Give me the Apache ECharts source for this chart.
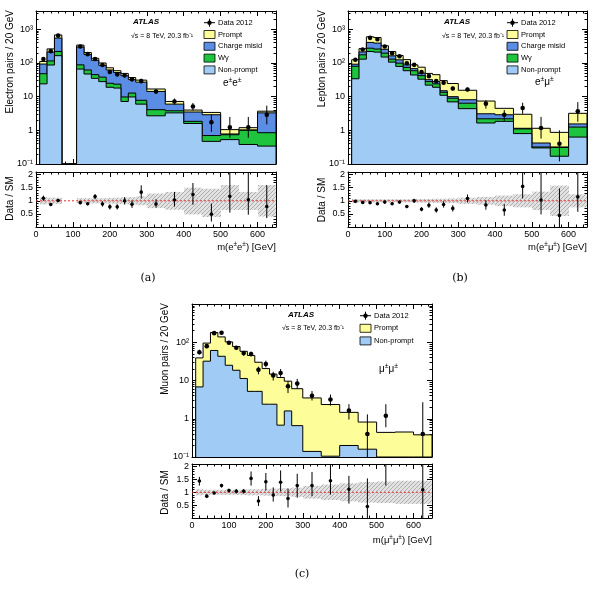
<!DOCTYPE html>
<html>
<head>
<meta charset="utf-8">
<script src="https://cdn.jsdelivr.net/npm/echarts@6/dist/echarts.min.js"></script>
<style>
  html, body { margin: 0; padding: 0; background: #fff; }
  #chart { width: 595px; height: 590px; }
</style>
</head>
<body>
<div id="chart"></div>
<script>
// ---- bin edges (GeV) ----
const edgesEE = [10, 30, 50, 70, 110, 130, 150, 170, 190, 210, 230, 250, 270, 300, 350, 400, 450, 500, 550, 600, 650];
const edgesLL = [10, 30, 50, 70, 90, 110, 130, 150, 170, 190, 210, 230, 250, 270, 300, 350, 400, 450, 500, 550, 600, 650];

// ---- (a) e±e± : per-bin content of each background (70-110 is vetoed) ----
const eeNonPrompt = [24, 87, 165, 0, 66, 47, 35, 28, 19, 18, 7.2, 9.8, 6, 2.7, 3.3, 1.6, 0.47, 0.53, 0.38, 0.34];
const eeWgamma    = [24, 28, 55, 0, 22, 15, 10, 10, 6, 5.5, 2.6, 3, 1.8, 1.4, 0.5, 0.25, 0.23, 0.21, 0.62, 0.51];
const eeChargeMis = [45, 95, 330, 0, 210, 116, 75, 47, 37, 28.5, 32.2, 19.2, 19.2, 10.2, 2.2, 1.65, 2.2, 0.04, 0.03, 2.45];
const eePrompt    = [18, 52, 130, 0, 42, 27, 18, 15, 10, 7, 7, 5, 4, 2.6, 1.2, 0.5, 0.5, 0.27, 0.17, 0.4];
const eeDataMass  = [20, 40, 60, 120, 140, 160, 180, 200, 220, 240, 260, 285, 325, 375, 425, 475, 525, 575, 625];
const eeData      = [131, 225, 650, 309, 183, 131, 87, 54, 46, 43, 33, 29, 14.3, 7.2, 5.1, 1.73, 1.23, 1.23, 2.9];
const eeDataLo    = [120, 210, 625, 290, 170, 120, 78, 47, 40, 37, 28, 25, 12, 5.8, 3.9, 0.9, 0.6, 0.6, 1.5];
const eeDataHi    = [142, 240, 675, 330, 197, 142, 96, 61, 52, 49, 38, 34, 16.5, 8.8, 6.5, 2.9, 2.5, 2.5, 5.4];
const eeRatio     = [1.1, 0.86, 1.01, 0.93, 0.89, 1.16, 0.88, 0.77, 0.77, 1.0, 0.87, 1.33, 0.88, 1.03, 1.24, 0.49, 1.17, 1.04, 0.78];
const eeRatioLo   = [1.0, 0.8, 0.96, 0.87, 0.83, 1.06, 0.78, 0.67, 0.67, 0.86, 0.73, 1.09, 0.74, 0.78, 0.85, 0.21, 0.55, 0.47, 0.34];
const eeRatioHi   = [1.2, 0.92, 1.06, 0.99, 0.95, 1.26, 0.98, 0.87, 0.87, 1.14, 1.01, 1.59, 1.06, 1.34, 1.68, 0.9, 2.5, 2.5, 1.6];
const eeBandUp    = [0.14, 0.12, 0.12, null, 0.1, 0.1, 0.1, 0.1, 0.11, 0.12, 0.13, 0.14, 0.17, 0.28, 0.34, 0.5, 0.46, 0.6, 0.34, 0.6];
const eeBandDn    = [0.14, 0.12, 0.12, null, 0.1, 0.1, 0.1, 0.1, 0.11, 0.12, 0.13, 0.14, 0.17, 0.28, 0.34, 0.52, 0.62, 0.35, 0.35, 0.6];

// ---- (b) e±μ± ----
const emNonPrompt = [34, 130, 219, 210, 150, 106, 79, 59, 44, 33, 22, 19, 11, 7, 4.4, 1.65, 1.85, 0.8, 0.3, 0.17, 0.63];
const emWgamma    = [46, 45, 56, 50, 46, 24, 20, 15, 15, 9, 6, 5, 2.5, 2, 2, 0.55, 0.35, 0.3, 0.02, 0.14, 0.62];
const emChargeMis = [12, 38, 133, 130, 59, 33, 25, 14, 9, 8, 4, 4, 1.5, 1, 1.7, 0.9, 0.7, 0.05, 0.1, 0.01, 0.3];
const emPrompt    = [33, 54, 192, 180, 70, 56, 43, 38, 20, 25, 17, 17, 15, 14.6, 7.4, 4.3, 1.6, 1.85, 0.73, 0.55, 1.65];
const emDataMass  = [20, 40, 60, 80, 100, 120, 140, 160, 180, 200, 220, 240, 260, 285, 325, 375, 425, 475, 525, 575, 625];
const emData      = [125, 251, 558, 507, 309, 195, 159, 98, 88, 53.5, 40.6, 29, 26, 17.5, 16.4, 6.2, 2.9, 4.6, 1.17, 0.4, 3.7];
const emDataLo    = [117, 240, 540, 490, 296, 185, 150, 91, 81, 48, 36, 25, 22.5, 15, 14.4, 4.4, 1.9, 3.1, 0.57, 0.12, 1.8];
const emDataHi    = [133, 262, 575, 525, 322, 205, 168, 105, 95, 59, 45, 33, 29.5, 20, 18.5, 7.8, 4.0, 6.6, 2.5, 1.0, 6.9];
const emRatio     = [0.98, 0.94, 0.93, 0.89, 0.95, 0.89, 0.95, 0.78, 1.0, 0.68, 0.83, 0.65, 0.86, 0.71, 1.09, 0.84, 0.65, 1.55, 1.03, 0.44, 1.15];
const emRatioLo   = [0.94, 0.9, 0.89, 0.85, 0.9, 0.84, 0.9, 0.72, 0.92, 0.6, 0.73, 0.55, 0.74, 0.59, 0.94, 0.66, 0.43, 1.09, 0.48, 0, 0.58];
const emRatioHi   = [1.02, 0.98, 0.97, 0.93, 1.0, 0.94, 1.0, 0.84, 1.08, 0.76, 0.93, 0.75, 0.98, 0.83, 1.24, 1.02, 0.87, 2.15, 2.5, 1.47, 2.5];
const emBandUp    = [0.07, 0.06, 0.06, 0.06, 0.06, 0.06, 0.06, 0.06, 0.07, 0.07, 0.07, 0.08, 0.08, 0.09, 0.12, 0.15, 0.2, 0.25, 0.35, 0.58, 0.25];
const emBandDn    = emBandUp;

// ---- (c) μ±μ± ----
const mmNonPrompt = [6.8, 32, 61, 43, 25, 18.5, 11.3, 5.2, 5.2, 2.4, 2.4, 0.68, 1.6, 0.66, 0.14, 0.105, 0.2, 0.16, 0, 0, 0];
const mmPrompt    = [32.2, 63, 119, 95, 77, 58.5, 46.7, 39.8, 24.8, 18.1, 12.3, 11.3, 8, 5.44, 3.36, 2.25, 1.27, 0.66, 0.44, 0.45, 0.38];
const mmDataMass  = [20, 40, 60, 80, 100, 120, 140, 160, 180, 200, 220, 240, 260, 285, 325, 375, 425, 475, 525, 625];
const mmData      = [55, 79, 173, 177, 97, 72, 52, 49, 19, 27, 13.6, 15.7, 7.1, 8.3, 4.0, 3.2, 1.65, 0.4, 1.2, 0.4];
const mmDataLo    = [48, 70, 157, 163, 87, 64, 44, 43, 14.5, 22, 10, 12.5, 4.7, 6, 3.0, 2.2, 0.95, 0.05, 0.6, 0.05];
const mmDataHi    = [64, 88, 187, 190, 107, 80, 58, 57, 23, 33, 17, 20, 9.5, 11, 5.3, 4.3, 2.4, 1.3, 2.4, 2.7];
const mmRatio     = [1.44, 0.85, 0.97, 1.26, 1.07, 1.04, 1.04, 1.54, 0.66, 1.41, 0.89, 1.39, 0.76, 1.26, 1.26, 1.45, 1.12, 0.45, 2.7, 1.1];
const mmRatioLo   = [1.26, 0.79, 0.92, 1.19, 1.0, 0.95, 0.95, 1.26, 0.47, 1.07, 0.64, 1.04, 0.41, 0.79, 0.85, 0.91, 0.56, 0, 1.26, 0];
const mmRatioHi   = [1.6, 0.91, 1.02, 1.33, 1.14, 1.13, 1.13, 1.81, 0.85, 1.75, 1.19, 1.85, 1.14, 1.72, 1.79, 2.16, 1.64, 1.54, 4, 3.6];
const mmBandUp    = [0.12, 0.1, 0.1, 0.1, 0.1, 0.1, 0.11, 0.12, 0.12, 0.13, 0.14, 0.15, 0.16, 0.18, 0.25, 0.3, 0.35, 0.4, 0.42, 0.45, 0.45];
const mmBandDn    = mmBandUp;

// ---- ticks ----
const logMajor = [0.1, 1, 10, 100, 1000];
const logNames = { 0.1: '10⁻¹', 1: '1', 10: '10', 100: '10²', 1000: '10³' };
const xTicks = [0, 100, 200, 300, 400, 500, 600];

const FONT = 'Liberation Sans, Arial, Helvetica, sans-serif';
const COL = { prompt: '#fdfd9a', cm: '#5b8de4', wg: '#1fc43e', np: '#9fcbf5' };

const logMinor = [];
logMajor.forEach(d => { for (let k = 2; k <= 9; k++) logMinor.push(+(d * k).toPrecision(3)); });

// hatched grey pattern for the syst. band
const pat = document.createElement('canvas');
pat.width = 4; pat.height = 4;
const pc = pat.getContext('2d');
pc.fillStyle = '#e2e2e2'; pc.fillRect(0, 0, 4, 4);
pc.strokeStyle = '#a8a8a8'; pc.lineWidth = 0.9;
pc.beginPath(); pc.moveTo(0, 4); pc.lineTo(4, 0); pc.stroke();
pc.beginPath(); pc.moveTo(-1, 1); pc.lineTo(1, -1); pc.stroke();
pc.beginPath(); pc.moveTo(3, 5); pc.lineTo(5, 3); pc.stroke();

const option = { animation: false, grid: [], xAxis: [], yAxis: [], series: [], graphic: [] };
const black = { color: '#000', width: 1 };

// four-sided frame with inward ticks, returns axis indices
function addFrame(box, isLog, yMin, yMax, showX, labelVals) {
  const gi = option.grid.length;
  option.grid.push({ ...box, outerBoundsMode: 'none', containLabel: false });
  const xi = option.xAxis.length;
  ['bottom', 'top'].forEach((pos, k) => {
    option.xAxis.push({
      type: 'value', gridIndex: gi, position: pos, min: 0, max: 650, interval: 100,
      axisLine: { onZero: false, lineStyle: black },
      splitLine: { show: false },
      axisTick: { inside: true, length: 5, lineStyle: black },
      minorTick: { show: true, splitNumber: 5, length: 2.5, lineStyle: black },
      axisLabel: {
        show: showX && k === 0, margin: 3, fontSize: 9, color: '#000', fontFamily: FONT,
        customValues: xTicks
      }
    });
  });
  const yi = option.yAxis.length;
  ['left', 'right'].forEach((pos, k) => {
    if (isLog) {
      option.yAxis.push({
        type: 'log', logBase: 10, gridIndex: gi, position: pos, min: yMin, max: yMax,
        axisLine: { onZero: false, lineStyle: black },
        splitLine: { show: false },
        axisTick: { inside: true, length: 5, lineStyle: black, customValues: logMajor.filter(v => v <= yMax) },
        axisLabel: {
          show: k === 0, margin: 3, fontSize: 9, color: '#000', fontFamily: FONT,
          customValues: labelVals, formatter: v => logNames[+(+v).toPrecision(3)] || ''
        }
      });
      option.yAxis.push({
        type: 'log', logBase: 10, gridIndex: gi, position: pos, min: yMin, max: yMax,
        axisLine: { show: false, onZero: false },
        splitLine: { show: false },
        axisTick: { inside: true, length: 2.5, lineStyle: black, customValues: logMinor.filter(v => v < yMax) },
        axisLabel: { show: false }
      });
    } else {
      option.yAxis.push({
        type: 'value', gridIndex: gi, position: pos, min: 0, max: 2.1, interval: 0.5,
        axisLine: { onZero: false, lineStyle: black },
        splitLine: { show: false },
        axisTick: { inside: true, length: 5, lineStyle: black },
        minorTick: { show: true, splitNumber: 5, length: 2.5, lineStyle: black },
        axisLabel: {
          show: k === 0, margin: 3, fontSize: 9, color: '#000', fontFamily: FONT,
          customValues: [0.5, 1, 1.5, 2]
        }
      });
    }
  });
  return { xi, yi };
}

function cumulate(layers) {
  let run = layers[0].map(() => 0);
  return layers.map(l => (run = run.map((v, i) => v + l[i])));
}

// filled step area of one cumulative level, with black outline
function layerSeries(ax, edges, top, color, yMin, yMax) {
  return {
    type: 'custom', xAxisIndex: ax.xi, yAxisIndex: ax.yi, clip: true, silent: true,
    data: [[edges[0], Math.max(top[0], yMin)]],
    renderItem(params, api) {
      const c = v => Math.min(Math.max(v, yMin), yMax);
      const pts = [api.coord([edges[0], yMin])];
      top.forEach((t, i) => {
        pts.push(api.coord([edges[i], c(t)]));
        pts.push(api.coord([edges[i + 1], c(t)]));
      });
      pts.push(api.coord([edges[edges.length - 1], yMin]));
      return {
        type: 'group', children: [
          { type: 'polygon', shape: { points: pts }, style: { fill: color } },
          { type: 'polyline', shape: { points: pts }, style: { stroke: '#000', lineWidth: 1, fill: null } }
        ]
      };
    }
  };
}

function pointSeries(ax, xs, vals, lo, hi, r, yMin, yMax) {
  return {
    type: 'custom', xAxisIndex: ax.xi, yAxisIndex: ax.yi, clip: true, silent: true, z: 5,
    data: xs.map((x, i) => [x, vals[i], lo[i], hi[i]]),
    renderItem(params, api) {
      const x = api.value(0), v = api.value(1);
      const l = Math.max(api.value(2), yMin), h = Math.min(api.value(3), yMax);
      const pl = api.coord([x, l]), ph = api.coord([x, h]);
      const ch = [{ type: 'line', shape: { x1: pl[0], y1: pl[1], x2: ph[0], y2: ph[1] }, style: { stroke: '#000', lineWidth: 1 } }];
      if (v >= yMin && v <= yMax) {
        const p = api.coord([x, v]);
        ch.push({ type: 'circle', shape: { cx: p[0], cy: p[1], r }, style: { fill: '#000' } });
      }
      return { type: 'group', children: ch };
    }
  };
}

function bandSeries(ax, edges, up, dn) {
  return {
    type: 'custom', xAxisIndex: ax.xi, yAxisIndex: ax.yi, clip: true, silent: true,
    data: edges.slice(0, -1).map((e, i) => [e, edges[i + 1], up[i], dn[i]]).filter(d => d[2] != null),
    renderItem(params, api) {
      const a = api.coord([api.value(0), 1 + api.value(2)]);
      const b = api.coord([api.value(1), 1 - api.value(3)]);
      const x0 = Math.round(a[0]), x1 = Math.round(b[0]);
      return { type: 'rect', shape: { x: x0, y: a[1], width: x1 - x0, height: b[1] - a[1] }, style: { fill: { image: pat, repeat: 'repeat' } } };
    }
  };
}

function unityLine(ax) {
  return {
    type: 'line', xAxisIndex: ax.xi, yAxisIndex: ax.yi, silent: true, symbol: 'none', z: 4,
    data: [[0, 1], [650, 1]],
    lineStyle: { color: '#e3312b', width: 1, type: [2, 2] }
  };
}

const G = option.graphic;
function txt(x, y, text, o = {}) {
  G.push({
    type: 'text', x, y, rotation: o.rot || 0,
    style: {
      text, fill: '#000', fontSize: o.size || 9, fontFamily: o.family || FONT,
      fontWeight: o.weight || 'normal', fontStyle: o.italic ? 'italic' : 'normal',
      align: o.align || 'left', verticalAlign: o.va || 'middle', rich: o.rich
    }
  });
}
const supRich = size => ({
  n: { fontSize: size, lineHeight: size + 2, fontFamily: FONT, fill: '#000' },
  s: { fontSize: size * 0.68, lineHeight: size * 0.5, verticalAlign: 'top', fontFamily: FONT, fill: '#000' }
});
function legend(x, y, dy, entries) {
  entries.forEach((en, k) => {
    const cy = y + k * dy;
    if (en.data) {
      G.push({ type: 'line', shape: { x1: x, y1: cy, x2: x + 11, y2: cy }, style: { stroke: '#000', lineWidth: 1 } });
      G.push({ type: 'line', shape: { x1: x + 5.5, y1: cy - 4, x2: x + 5.5, y2: cy + 4 }, style: { stroke: '#000', lineWidth: 1 } });
      G.push({ type: 'circle', shape: { cx: x + 5.5, cy, r: 2.2 }, style: { fill: '#000' } });
    } else {
      G.push({ type: 'rect', shape: { x, y: cy - 4, width: 11, height: 8 }, style: { fill: en.color, stroke: '#000', lineWidth: 0.8 } });
    }
    txt(x + 14, cy, en.label, { size: 7.5 });
  });
}

// ---------- panels ----------
function panel(p) {
  const main = addFrame(p.mainBox, true, 0.1, p.yMax, false, p.labels);
  const ratio = addFrame(p.ratioBox, false, 0, 2.1, true);
  const tops = cumulate(p.layers.map(l => l.vals));
  for (let k = tops.length - 1; k >= 0; k--) {
    option.series.push(layerSeries(main, p.edges, tops[k], p.layers[k].color, 0.1, p.yMax));
  }
  option.series.push(pointSeries(main, p.mass, p.data, p.dataLo, p.dataHi, 2.3, 0.1, p.yMax));
  option.series.push(bandSeries(ratio, p.edges, p.bandUp, p.bandDn));
  option.series.push(unityLine(ratio));
  option.series.push(pointSeries(ratio, p.mass, p.ratio, p.ratioLo, p.ratioHi, 1.8, 0, 2.1));
}

panel({
  mainBox: { left: 36, top: 11, width: 240, height: 153 }, ratioBox: { left: 36, top: 172, width: 240, height: 55 },
  yMax: 3500, labels: [0.1, 1, 10, 100, 1000], edges: edgesEE,
  layers: [
    { vals: eeNonPrompt, color: COL.np }, { vals: eeWgamma, color: COL.wg },
    { vals: eeChargeMis, color: COL.cm }, { vals: eePrompt, color: COL.prompt }
  ],
  mass: eeDataMass, data: eeData, dataLo: eeDataLo, dataHi: eeDataHi,
  ratio: eeRatio, ratioLo: eeRatioLo, ratioHi: eeRatioHi, bandUp: eeBandUp, bandDn: eeBandDn
});
panel({
  mainBox: { left: 348, top: 11, width: 239, height: 153 }, ratioBox: { left: 348, top: 172, width: 239, height: 55 },
  yMax: 3500, labels: [0.1, 1, 10, 100, 1000], edges: edgesLL,
  layers: [
    { vals: emNonPrompt, color: COL.np }, { vals: emWgamma, color: COL.wg },
    { vals: emChargeMis, color: COL.cm }, { vals: emPrompt, color: COL.prompt }
  ],
  mass: emDataMass, data: emData, dataLo: emDataLo, dataHi: emDataHi,
  ratio: emRatio, ratioLo: emRatioLo, ratioHi: emRatioHi, bandUp: emBandUp, bandDn: emBandDn
});
panel({
  mainBox: { left: 192, top: 304, width: 240, height: 153 }, ratioBox: { left: 192, top: 464, width: 240, height: 54 },
  yMax: 1000, labels: [0.1, 1, 10, 100], edges: edgesLL,
  layers: [{ vals: mmNonPrompt, color: COL.np }, { vals: mmPrompt, color: COL.prompt }],
  mass: mmDataMass, data: mmData, dataLo: mmDataLo, dataHi: mmDataHi,
  ratio: mmRatio, ratioLo: mmRatioLo, ratioHi: mmRatioHi, bandUp: mmBandUp, bandDn: mmBandDn
});

// ---------- texts ----------
const fourLegend = [
  { data: true, label: 'Data 2012' }, { color: COL.prompt, label: 'Prompt' },
  { color: COL.cm, label: 'Charge misid' }, { color: COL.wg, label: 'Wγ' },
  { color: COL.np, label: 'Non-prompt' }
];
legend(204, 22.7, 11.8, fourLegend);
legend(507, 22.7, 11.8, fourLegend);
legend(360, 315.7, 12.6, [
  { data: true, label: 'Data 2012' }, { color: COL.prompt, label: 'Prompt' }, { color: COL.np, label: 'Non-prompt' }
]);

[[133, 21.7, 131, 36], [444, 21.7, 442, 36], [288, 315, 282, 328.3]].forEach(([ax, ay, sx, sy]) => {
  txt(ax, ay, 'ATLAS', { size: 8, weight: 'bold', italic: true });
  txt(sx, sy, '√s = 8 TeV, 20.3 fb⁻¹', { size: 7 });
});

txt(223, 83, '{n|e}{s|±}{n|e}{s|±}', { rich: supRich(10) });
txt(535, 82, '{n|e}{s|±}{n|μ}{s|±}', { rich: supRich(10) });
txt(379, 369, '{n|μ}{s|±}{n|μ}{s|±}', { rich: supRich(10) });

txt(10, 10, 'Electron pairs / 20 GeV', { rot: Math.PI / 2, align: 'right', size: 10 });
txt(322, 10, 'Lepton pairs / 20 GeV', { rot: Math.PI / 2, align: 'right', size: 10 });
txt(165, 303, 'Muon pairs / 20 GeV', { rot: Math.PI / 2, align: 'right', size: 10 });
txt(10, 198.5, 'Data / SM', { rot: Math.PI / 2, align: 'center', size: 10 });
txt(322, 200, 'Data / SM', { rot: Math.PI / 2, align: 'center', size: 10 });
txt(165, 492.5, 'Data / SM', { rot: Math.PI / 2, align: 'center', size: 10 });

txt(276, 247, '{n|m(e}{s|±}{n|e}{s|±}{n|) [GeV]}', { align: 'right', rich: supRich(9.5) });
txt(587, 247, '{n|m(e}{s|±}{n|μ}{s|±}{n|) [GeV]}', { align: 'right', rich: supRich(9.5) });
txt(432, 540, '{n|m(μ}{s|±}{n|μ}{s|±}{n|) [GeV]}', { align: 'right', rich: supRich(9.5) });

const SERIF = 'DejaVu Serif, Liberation Serif, serif';
txt(148, 278, '(a)', { align: 'center', size: 11, family: SERIF });
txt(460, 278, '(b)', { align: 'center', size: 11, family: SERIF });
txt(302, 574, '(c)', { align: 'center', size: 11, family: SERIF });

const chart = echarts.init(document.getElementById('chart'), null, { renderer: 'canvas' });
chart.setOption(option);
</script>
</body>
</html>
